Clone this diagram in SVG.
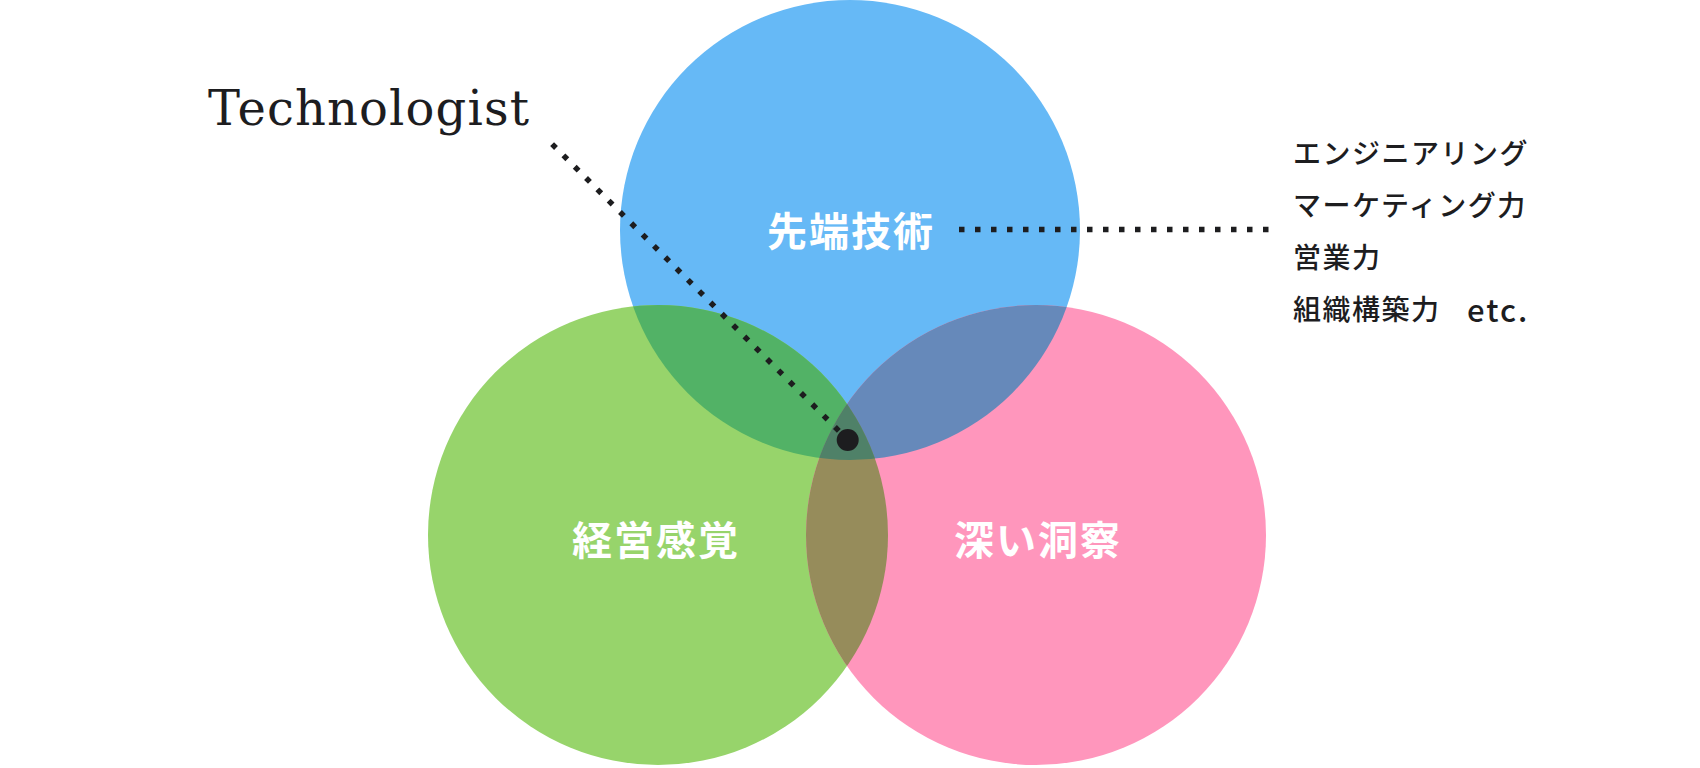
<svg xmlns="http://www.w3.org/2000/svg" width="1700" height="768" viewBox="0 0 1700 768">
  <style>
    .lbl { font-family: "Noto Sans CJK JP", "Noto Sans", sans-serif; font-weight: 700; font-size: 40px; fill: #ffffff; letter-spacing: 2px; text-anchor: middle; dominant-baseline: central; }
    .side { font-family: "Noto Sans CJK JP", "Noto Sans", sans-serif; font-weight: 500; font-size: 28px; fill: #1d1d1f; letter-spacing: 1.5px; dominant-baseline: central; }
    .title { font-family: "DejaVu Serif", "Liberation Serif", serif; font-size: 48px; fill: #1d1d1f; }
    .dots { fill: none; stroke: #1d1d1f; stroke-width: 5.5; stroke-dasharray: 5.5 10.5; stroke-linecap: butt; }
  </style>
  <defs>
    <clipPath id="cBlue"><circle cx="850" cy="230" r="230"/></clipPath>
    <clipPath id="cGreen"><circle cx="658" cy="535" r="230"/></clipPath>
    <clipPath id="cPink"><circle cx="1036" cy="535" r="230"/></clipPath>
  </defs>
  <rect width="1700" height="768" fill="#ffffff"/>

  <g id="circle-tech">
    <circle cx="850" cy="230" r="230" fill="#66B9F6"/>
  </g>
  <g id="circle-biz">
    <circle cx="658" cy="535" r="230" fill="#97D46B"/>
  </g>
  <g id="circle-insight">
    <circle cx="1036" cy="535" r="230" fill="#FF96BC"/>
  </g>

  <g id="overlaps">
    <g clip-path="url(#cBlue)">
      <circle cx="658" cy="535" r="230" fill="#52B266"/>
      <circle cx="1036" cy="535" r="230" fill="#6689BA"/>
    </g>
    <g clip-path="url(#cGreen)">
      <circle cx="1036" cy="535" r="230" fill="#968C5B"/>
      <g clip-path="url(#cBlue)">
        <circle cx="1036" cy="535" r="230" fill="#4F8168"/>
      </g>
    </g>
  </g>

  <g id="labels">
    <text class="lbl" x="851" y="229">先端技術</text>
    <text class="lbl" x="656" y="538">経営感覚</text>
    <text class="lbl" x="1038" y="538">深い洞察</text>
  </g>

  <g id="connectors">
    <line class="dots" x1="552.1" y1="144.1" x2="842" y2="434"/>
    <line class="dots" x1="959" y1="229.5" x2="1272" y2="229.5"/>
    <circle cx="847.7" cy="440" r="11" fill="#1d1d1f"/>
  </g>

  <g id="technologist">
    <text class="title" x="208" y="125" textLength="321" lengthAdjust="spacing">Technologist</text>
  </g>

  <g id="skills">
    <text class="side" x="1293" y="152">エンジニアリング</text>
    <text class="side" x="1293" y="204">マーケティング力</text>
    <text class="side" x="1293" y="256">営業力</text>
    <text class="side" x="1293" y="308">組織構築力<tspan x="1467" font-size="31px" letter-spacing="2px">etc.</tspan></text>
  </g>
</svg>
